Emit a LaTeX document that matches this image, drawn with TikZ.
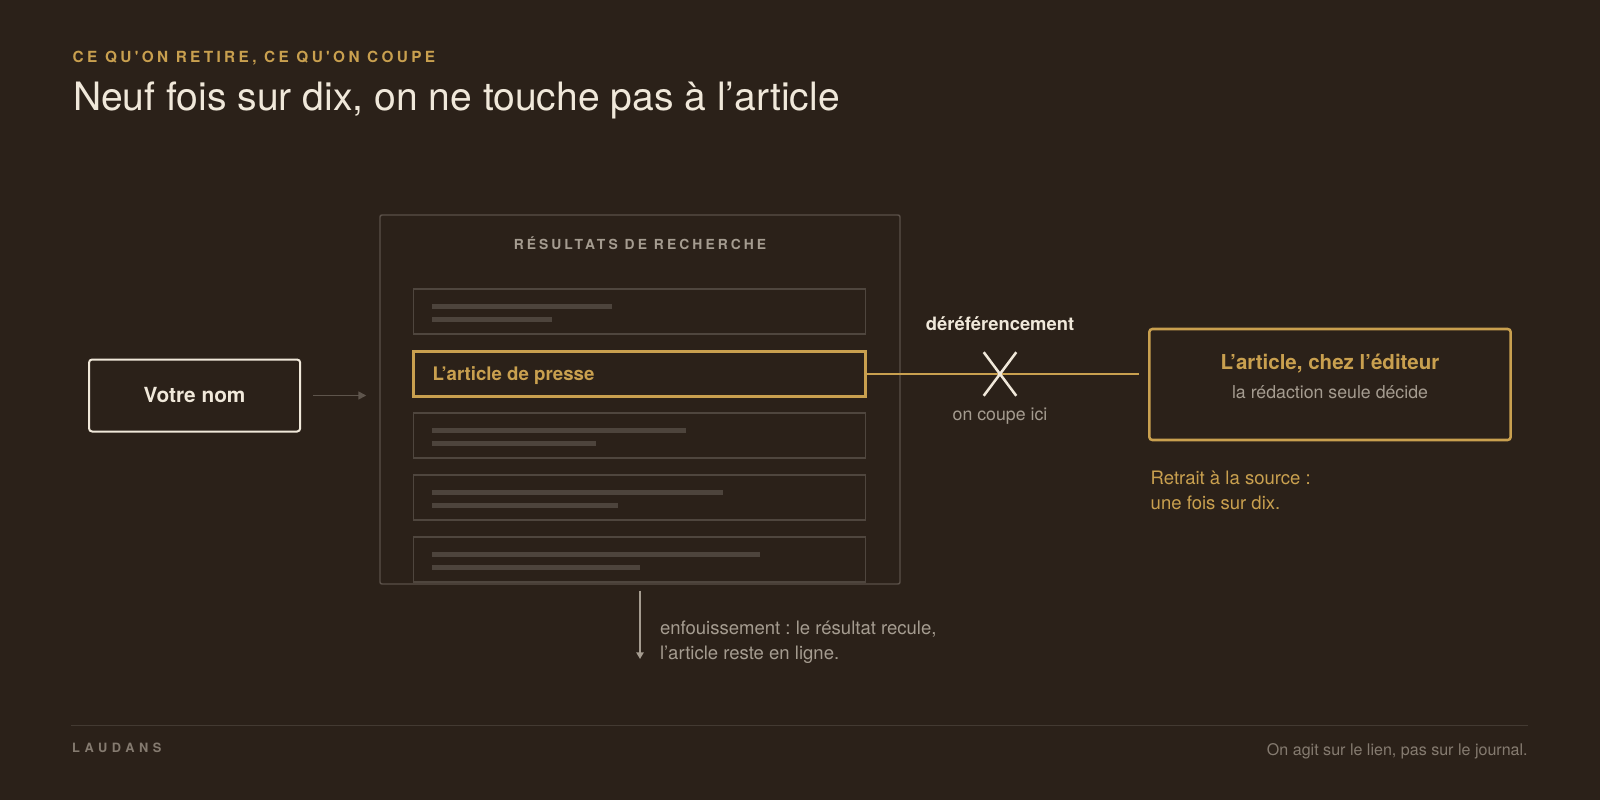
\documentclass[tikz,border=0pt]{standalone}
\usepackage{fontspec}
\setmainfont{TeX Gyre Heros}
\newfontfamily\spacedfont[LetterSpace=22]{TeX Gyre Heros}
\newfontfamily\widefont[LetterSpace=36]{TeX Gyre Heros}
\usetikzlibrary{arrows.meta,shapes.misc}
\frenchspacing
\definecolor{bg}{HTML}{2B2119}
\definecolor{gold}{HTML}{C9A04F}
\definecolor{cream}{HTML}{F0E8DA}
\definecolor{softgray}{HTML}{A59C90}
\definecolor{dimgray}{HTML}{857B70}
\definecolor{rowline}{HTML}{4F463E}
\definecolor{phfill}{HTML}{4D443C}
\definecolor{outerline}{HTML}{5A5048}
\definecolor{arrgray}{HTML}{5E554C}
\definecolor{rulecol}{HTML}{433A32}
\tikzset{
  txt/.style={inner sep=0pt, outer sep=0pt},
  outerbox/.style={draw=outerline, line width=1.1pt, rounded corners=1.5pt, minimum width=390pt, minimum height=276.75pt, inner sep=0pt},
  rowbox/.style={draw=rowline, line width=1.3pt, minimum width=339pt, minimum height=33.75pt, inner sep=0pt},
  hirow/.style={draw=gold, line width=2.2pt, minimum width=339pt, minimum height=33.75pt, inner sep=0pt},
  phline/.style={draw=phfill, line width=3.4pt},
  namebox/.style={draw=cream, line width=1.5pt, rounded corners=2.25pt, minimum width=158.25pt, minimum height=54pt, inner sep=0pt, text=cream, font=\bfseries\fontsize{15.6pt}{18pt}\selectfont},
  editbox/.style={draw=gold, line width=1.9pt, rounded corners=2.25pt, minimum width=271pt, minimum height=83.25pt, inner sep=0pt},
  cutmark/.style={draw=cream, cross out, line width=1.9pt, minimum width=22.5pt, minimum height=30.75pt, inner sep=0pt},
  grayarrow/.style={draw=arrgray, line width=1.1pt, -{Triangle[length=6pt,width=6pt]}},
  downarrow/.style={draw=softgray, line width=1.1pt, -{Triangle[length=5pt,width=5.5pt]}},
  goldlink/.style={draw=gold, line width=1.5pt},
  bodytxt/.style={txt, font=\fontsize{13.9pt}{16pt}\selectfont},
}
\begin{document}
\begin{tikzpicture}[x=0.75pt,y=-0.75pt]
\fill[bg] (0,0) rectangle (1600,800);
\useasboundingbox (0,0) rectangle (1600,800);

% header
\node[txt, anchor=base west, text=gold, font=\spacedfont\bfseries\fontsize{11.5pt}{13pt}\selectfont] (kicker) at (72.7,62.3) {CE QU'ON RETIRE, CE QU'ON COUPE};
\node[txt, anchor=base west, text=cream, font=\fontsize{29.3pt}{34pt}\selectfont] (title) at (73,110) {Neuf fois sur dix, on ne touche pas à l’article};

% search results panel
\node[outerbox] (res) at (640,399.5) {};
\node[txt, anchor=base, text=softgray, font=\spacedfont\bfseries\fontsize{10.4pt}{12pt}\selectfont] (restitle) at (640,249.3) {RÉSULTATS DE RECHERCHE};

\node[rowbox] (r1) at (639.5,311.8) {};
\node[hirow]  (r2) at (639.5,373.7) {};
\node[rowbox] (r3) at (639.5,435.8) {};
\node[rowbox] (r4) at (639.5,497.8) {};
\node[rowbox] (r5) at (639.5,559.7) {};

\draw[phline] (432,306.3) -- (612,306.3);
\draw[phline] (432,319.3) -- (552,319.3);
\draw[phline] (432,430.3) -- (686,430.3);
\draw[phline] (432,443.3) -- (596,443.3);
\draw[phline] (432,492.3) -- (723,492.3);
\draw[phline] (432,505.3) -- (618,505.3);
\draw[phline] (432,554.3) -- (760,554.3);
\draw[phline] (432,567.3) -- (640,567.3);

\node[txt, anchor=base west, text=gold, font=\bfseries\fontsize{14pt}{17pt}\selectfont] (arttxt) at (432.7,380) {L’article de presse};

% name box
\node[namebox] (votre) at (194.6,395.5) {Votre nom};
\draw[grayarrow, shorten <=9pt, shorten >=9.75pt] (votre.east) -- (votre.east -| res.west);

% cut link
\node[editbox] (edit) at (1330,384.5) {};
\draw[goldlink, shorten >=6.75pt] (r2.east) -- (r2.east -| edit.west);
\node[cutmark] (cut) at (1000,374) {};
\node[txt, anchor=base, text=cream, font=\bfseries\fontsize{13.8pt}{16pt}\selectfont] (deref) at (1000,330) {déréférencement};
\node[txt, anchor=base, text=softgray, font=\fontsize{13.3pt}{15pt}\selectfont] (coupe) at (1000,420) {on coupe ici};

\node[txt, anchor=base, text=gold, font=\bfseries\fontsize{15.4pt}{18pt}\selectfont] (edtitle) at (1330,369.3) {L’article, chez l’éditeur};
\node[txt, anchor=base, text=softgray, font=\fontsize{13.3pt}{15pt}\selectfont] (edsub) at (1330,398.3) {la rédaction seule décide};

\node[bodytxt, anchor=base west, text=gold] (retrait1) at (1150.7,484) {Retrait à la source :};
\node[bodytxt, anchor=base west, text=gold] (retrait2) at (1150.7,509) {une fois sur dix.};

% burial arrow
\coordinate (burend) at (640,659);
\draw[downarrow, shorten <=4.5pt] (res.south) -- (burend);
\node[bodytxt, anchor=base west, text=softgray] (enf1) at (660,634) {enfouissement : le résultat recule,};
\node[bodytxt, anchor=base west, text=softgray] (enf2) at (660,659.3) {l’article reste en ligne.};

% footer
\coordinate (ruleL) at (71,725.5);
\coordinate (ruleR) at (1527.7,725.5);
\draw[draw=rulecol, line width=1.2pt] (ruleL) -- (ruleR);
\node[txt, anchor=base west, text=dimgray, font=\widefont\bfseries\fontsize{9.6pt}{12pt}\selectfont] (brand) at (72,752.3) {LAUDANS};
\node[txt, anchor=base east, text=dimgray, font=\fontsize{12.05pt}{14pt}\selectfont] (motto) at (1527.7,755.7) {On agit sur le lien, pas sur le journal.};
\end{tikzpicture}
\end{document}
